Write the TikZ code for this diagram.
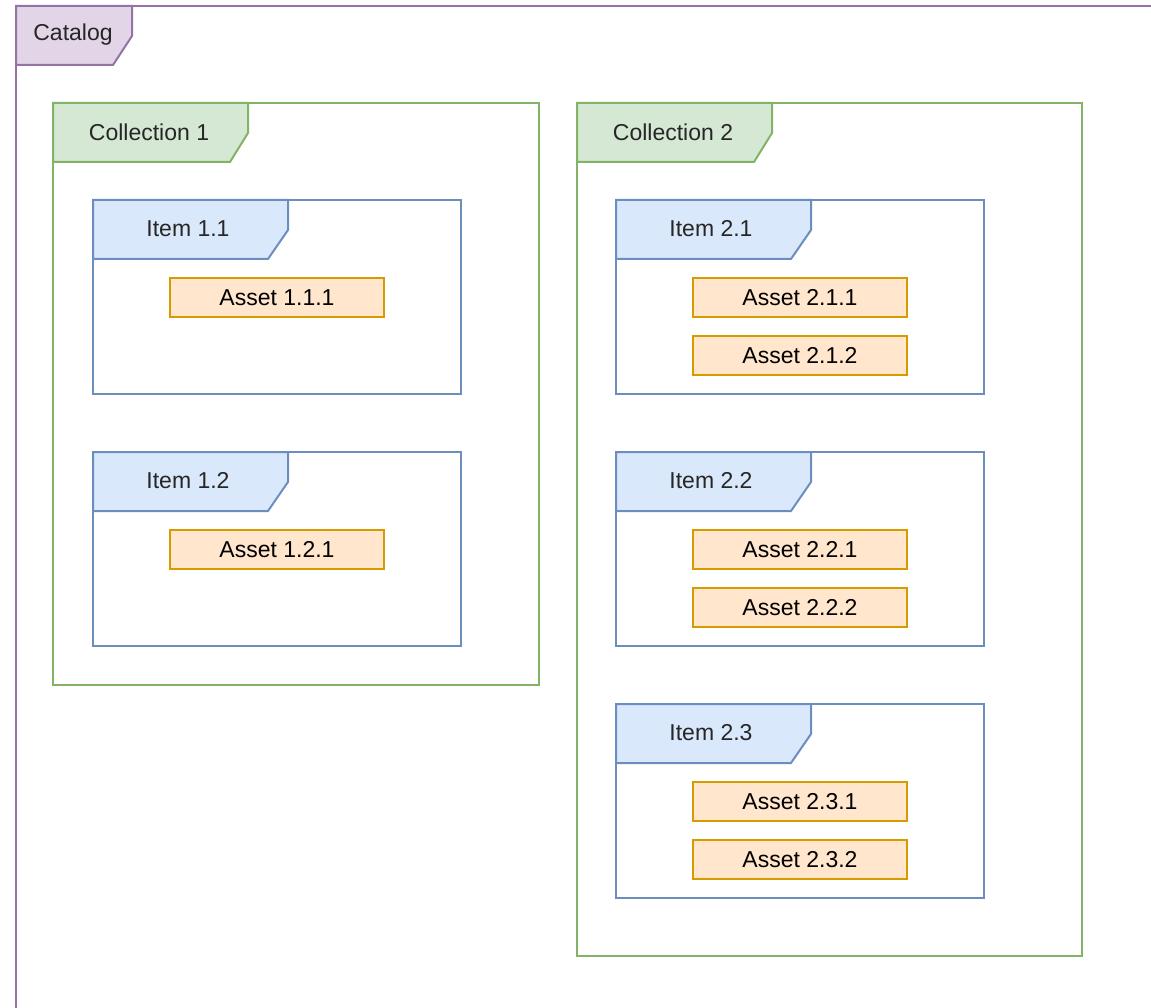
\documentclass[tikz,border=0pt]{standalone}
\usepackage{fontspec}
\setmainfont{Liberation Sans}
\usepackage{tikz}
\usetikzlibrary{positioning, calc}

\definecolor{catfill}{HTML}{E1D5E7}
\definecolor{catline}{HTML}{9673A6}
\definecolor{colfill}{HTML}{D5E8D4}
\definecolor{colline}{HTML}{82B366}
\definecolor{itemfill}{HTML}{DAE8FC}
\definecolor{itemline}{HTML}{6C8EBF}
\definecolor{assetfill}{HTML}{FFE6CC}
\definecolor{assetline}{HTML}{D79B00}

\begin{document}
\begin{tikzpicture}[
    x=1pt, y=-1pt,
    font=\fontsize{23}{27}\selectfont,
    node distance=19pt,
    frame/.style={rectangle, draw, line width=2pt, anchor=north west, inner sep=0pt, outer sep=0pt},
    catalog/.style={frame, draw=catline, minimum width=1140pt, minimum height=1010pt},
    collection/.style={frame, draw=colline, minimum width=486pt},
    item/.style={frame, draw=itemline, minimum width=368pt, minimum height=194pt},
    asset/.style={rectangle, draw=assetline, fill=assetfill, line width=2pt,
                  minimum width=214pt, minimum height=39pt, inner sep=0pt, outer sep=0pt},
    cattab/.style={draw=catline, fill=catfill, line width=2pt, line join=miter},
    coltab/.style={draw=colline, fill=colfill, line width=2pt, line join=miter},
    itemtab/.style={draw=itemline, fill=itemfill, line width=2pt, line join=miter},
    tabtext/.style={inner sep=0pt, text=black!85}
]
    \useasboundingbox (0,0) rectangle (1151,1008);

    % Catalog
    \node[catalog] (cat) at (16,6) {};
    \draw[cattab] (cat.north west) -- ++(116,0) -- ++(0,30) -- ++(-19,29) -- ++(-97,0) -- cycle;
    \node[tabtext] (catT) at ($(cat.north west)+(57,29)$) {Catalog};

    % Collections
    \node[collection, minimum height=582pt] (C1) at (53,103) {};
    \node[collection, minimum height=853pt, minimum width=505pt] (C2) at (577,103) {};
    \draw[coltab] (C1.north west) -- ++(195,0) -- ++(0,30) -- ++(-18,29) -- ++(-177,0) -- cycle;
    \draw[coltab] (C2.north west) -- ++(195,0) -- ++(0,30) -- ++(-18,29) -- ++(-177,0) -- cycle;
    \node[tabtext] (C1T) at ($(C1.north west)+(96,29)$) {Collection 1};
    \node[tabtext] (C2T) at ($(C2.north west)+(96,29)$) {Collection 2};

    % Items
    \node[item] (I11) at ($(C1.north west)+(40,97)$) {};
    \node[item, below=58pt of I11.south west, anchor=north west] (I12) {};
    \node[item] (I21) at ($(C2.north west)+(39,97)$) {};
    \node[item, below=58pt of I21.south west, anchor=north west] (I22) {};
    \node[item, below=58pt of I22.south west, anchor=north west] (I23) {};

    \foreach \i/\t in {I11/Item 1.1, I12/Item 1.2, I21/Item 2.1, I22/Item 2.2, I23/Item 2.3} {
        \draw[itemtab] (\i.north west) -- ++(195,0) -- ++(0,30) -- ++(-20,29) -- ++(-175,0) -- cycle;
        \node[tabtext] (\i T) at ($(\i.north west)+(95,29)$) {\t};
    }

    % Assets
    \node[asset] (A111) at ($(I11.north)+(0,97.5)$) {Asset 1.1.1};
    \node[asset] (A121) at ($(I12.north)+(0,97.5)$) {Asset 1.2.1};
    \node[asset] (A211) at ($(I21.north)+(0,97.5)$) {Asset 2.1.1};
    \node[asset, below=of A211] (A212) {Asset 2.1.2};
    \node[asset] (A221) at ($(I22.north)+(0,97.5)$) {Asset 2.2.1};
    \node[asset, below=of A221] (A222) {Asset 2.2.2};
    \node[asset] (A231) at ($(I23.north)+(0,97.5)$) {Asset 2.3.1};
    \node[asset, below=of A231] (A232) {Asset 2.3.2};
\end{tikzpicture}
\end{document}
